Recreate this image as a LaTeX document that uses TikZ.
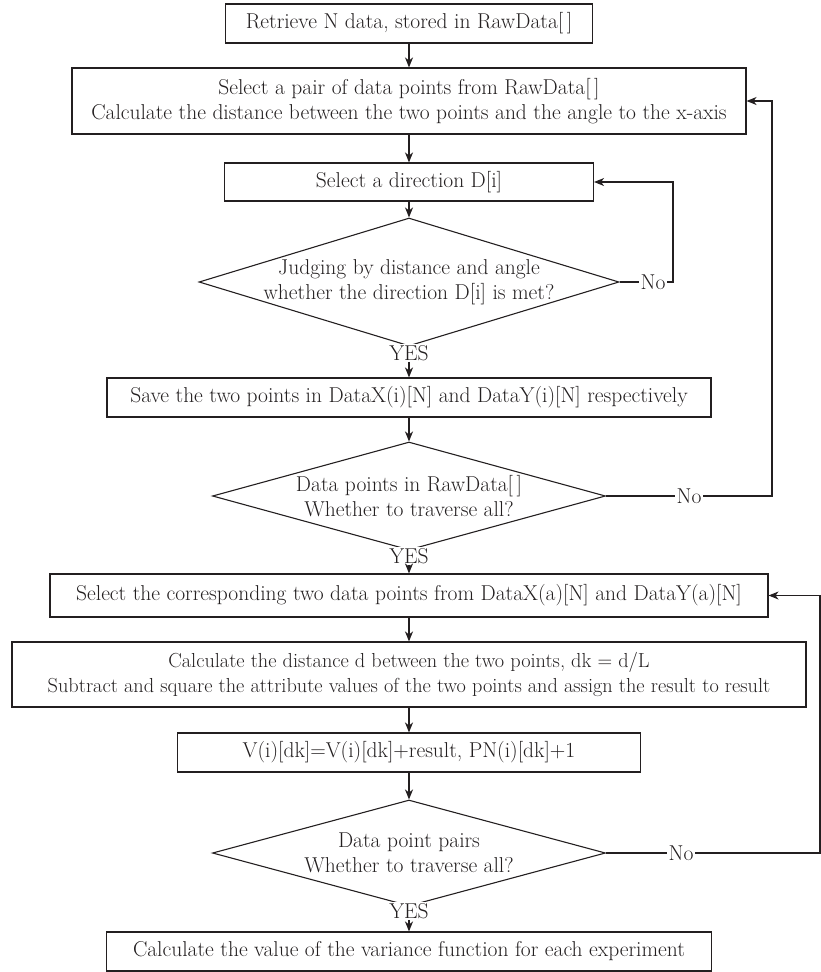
\documentclass[tikz,border=0pt]{standalone}
\usetikzlibrary{shapes.geometric,arrows.meta}
\definecolor{ink}{HTML}{231F20}
\begin{document}
\begin{tikzpicture}[x=1pt,y=-1pt,
  every node/.style={text=ink},
  base/.style={font=\fontsize{21.5}{25.5}\selectfont},
  box/.style={base, draw=ink, line width=1.1pt, inner sep=0pt, align=center},
  dia/.style={draw=ink, line width=1.1pt, shape=diamond, inner sep=0pt},
  dtext/.style={base, align=center, inner sep=0pt},
  lbl/.style={base, inner sep=1.5pt},
  yes/.style={base, fill=white, inner sep=1pt},
  line/.style={draw=ink, line width=1.1pt},
  arrow/.style={line, -{Stealth[length=10pt,width=8pt,inset=3pt]}}]
\useasboundingbox (0,0) rectangle (821,972);

\node[box, minimum width=367pt, minimum height=39pt] (b1) at (409,23.5) {Retrieve N data, stored in RawData[\,]};
\node[box, minimum width=674pt, minimum height=66pt] (b2) at (409,101) {Select a pair of data points from RawData[\,]\\Calculate the distance between the two points and the angle to the x-axis};
\node[box, minimum width=369pt, minimum height=38pt] (b3) at (409,182) {Select a direction D[i]};
\node[dia, minimum width=420pt, minimum height=128pt] (d1) at (409,282) {};
\node[dtext] (d1t) at (d1) {Judging by distance and angle\\whether the direction D[i] is met?};
\node[yes] (y1) at (409,353) {YES};
\node[box, minimum width=604pt, minimum height=39pt] (b4) at (409,397.5) {Save the two points in DataX(i)[N] and DataY(i)[N] respectively};
\node[dia, minimum width=393pt, minimum height=108pt] (d2) at (409,496) {};
\node[dtext] (d2t) at (d2) {Data points in RawData[\,]\\Whether to traverse all?};
\node[yes] (y2) at (409,556) {YES};
\node[box, minimum width=718pt, minimum height=43pt] (b5) at (409,595.5) {Select the corresponding two data points from DataX(a)[N] and DataY(a)[N]};
\node[box, minimum width=794pt, minimum height=65pt, font=\fontsize{20.3}{25.5}\selectfont] (b6) at (409,674.5) {Calculate the distance d between the two points, dk = d/L\\Subtract and square the attribute values of the two points and assign the result to result};
\node[box, minimum width=463pt, minimum height=39pt] (b7) at (409,752.5) {V(i)[dk]=V(i)[dk]+result, PN(i)[dk]+1};
\node[dia, minimum width=393pt, minimum height=106pt] (d3) at (409,853) {};
\node[dtext] (d3t) at (d3) {Data point pairs\\Whether to traverse all?};
\node[yes] (y3) at (409,911) {YES};
\node[box, minimum width=605pt, minimum height=39pt] (b8) at (409,951.5) {Calculate the value of the variance function for each experiment};

\node[lbl] (n1) at (653,282) {No};
\node[lbl] (n2) at (689,496) {No};
\node[lbl] (n3) at (681,853) {No};
\coordinate (c1) at (673,282);
\coordinate (c2) at (772,496);
\coordinate (c3) at (820,853);

\draw[arrow] (b1) -- (b2);
\draw[arrow] (b2) -- (b3);
\draw[arrow] (b3) -- (d1);
\draw[arrow] (y1) -- (b4);
\draw[arrow] (b4) -- (d2);
\draw[arrow] (y2) -- (b5);
\draw[arrow] (b5) -- (b6);
\draw[arrow] (b6) -- (b7);
\draw[arrow] (b7) -- (d3);
\draw[arrow] (y3) -- (b8);

\draw[line] (d1.east) -- (n1.west);
\draw[arrow] (n1.east) -- (c1) |- (b3.east);
\draw[line] (d2.east) -- (n2.west);
\draw[arrow] (n2.east) -- (c2) |- (b2.east);
\draw[line] (d3.east) -- (n3.west);
\draw[arrow] (n3.east) -- (c3) |- (b5.east);
\end{tikzpicture}
\end{document}
